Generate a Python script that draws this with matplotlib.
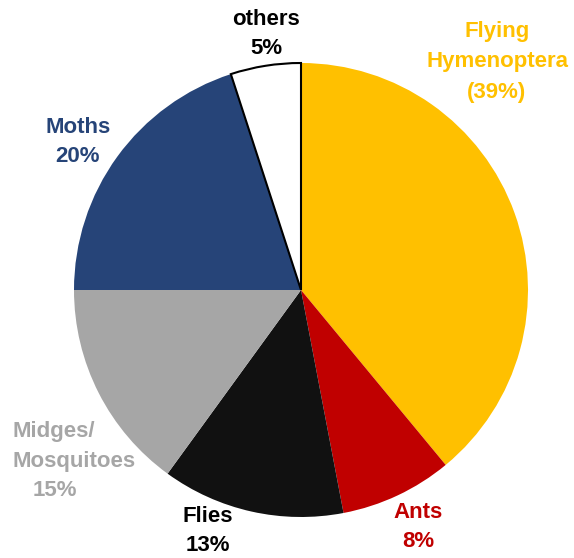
import matplotlib.pyplot as plt

# Share of each group, clockwise from the top
groups = ['Flying Hymenoptera', 'Ants', 'Flies', 'Midges/Mosquitoes', 'Moths', 'others']
shares = [39, 8, 13, 15, 20, 5]
colors = ['#FFC000', '#C00000', '#111111', '#A6A6A6', '#264478', '#FFFFFF']

W, H = 574, 558
fig = plt.figure(figsize=(W / 100, H / 100), dpi=100)
ax = fig.add_axes([0, 0, 1, 1])

wedges, _ = ax.pie(shares, colors=colors, startangle=90, counterclock=False,
                   center=(301, H - 290), radius=227, frame=True)
ax.axis('off')
ax.set_xlim(0, W)
ax.set_ylim(0, H)
ax.set_aspect('equal')
# only the white slice has an outline
wedges[-1].set_edgecolor('black')
wedges[-1].set_linewidth(1.5)

font = dict(family=['Liberation Sans', 'DejaVu Sans'], fontweight='bold', fontsize=16)


def label(x, y, s, c, ha='center', ls=1.44):
    ax.text(x, H - y, s, color=c, ha=ha, va='center', linespacing=ls, **font)


label(266, 34, 'others\n5%', 'black')
label(497, 62, 'Flying\nHymenoptera\n(39%)', '#FFC000', ls=1.62)
label(78, 142, 'Moths\n20%', '#264478')
label(12, 432, 'Midges/', '#A6A6A6', ha='left')
label(12, 461, 'Mosquitoes', '#A6A6A6', ha='left')
label(55, 491, '15%', '#A6A6A6')
label(208, 531, 'Flies\n13%', 'black')
label(418, 527, 'Ants\n8%', '#C00000')

fig.savefig('out.png', dpi=100)
